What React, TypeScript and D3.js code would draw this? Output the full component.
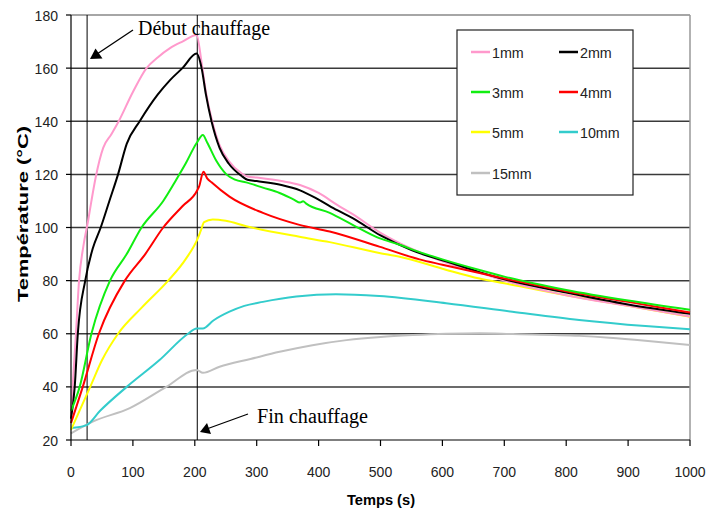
import React from "react";
import * as d3 from "d3";

type Pt = [number, number];

const xTicks = [0, 100, 200, 300, 400, 500, 600, 700, 800, 900, 1000];
const yTicks = [20, 40, 60, 80, 100, 120, 140, 160, 180];
const heatStart = 26;
const heatEnd = 204;

const s1mm: Pt[] = [[0,30],[4,45],[8,60],[13,80],[20,93],[28,103],[33,110],[40,119],[52,130],[65,135],[76,139.5],[100,151],[122,160],[140,164],[160,167.5],[180,170],[203,172.5],[211,162],[218,151],[227,141],[240,131],[255,125],[275,120.5],[285,119.2],[300,118.8],[340,117.5],[370,116],[400,113],[430,108.5],[455,105],[500,98],[550,92],[616,86],[660,83],[700,80],[800,74.5],[900,70.5],[1000,66.5]];
const s2mm: Pt[] = [[0,28],[6,40],[11,60],[23,80],[35,92],[48,100],[62,110],[76,120],[90,131.5],[111,140],[140,150],[160,155.5],[180,160],[203,165.5],[211,160],[218,150],[227,140],[240,130],[255,124],[275,119.5],[285,118],[300,117.5],[340,116],[370,114],[400,110.5],[430,106.5],[455,103.5],[500,97],[550,91.5],[616,86.5],[660,83.2],[700,80.5],[800,75.5],[900,71],[1000,67.5]];
const s3mm: Pt[] = [[0,31],[14,40],[33,60],[63,80],[90,90],[114,100],[149,110],[170,118],[185,124],[203,131.8],[213,134.8],[220,132],[235,125],[251,120],[265,118],[283,117],[310,115],[337,113],[360,110.5],[370,109.4],[375,109.9],[380,109],[418,105.5],[455,101],[498,96],[531,93.5],[560,91],[600,88],[660,84],[700,81.5],[800,76.5],[900,72.5],[1000,69]];
const s4mm: Pt[] = [[0,26.4],[19,40],[45,60],[87,80],[120,90],[149,100],[180,108],[204,114],[207,115.5],[214,121],[220,118.5],[227,117],[256,111.6],[310,105.5],[369,101],[418,98.5],[498,92.8],[563,88],[600,86],[700,80.8],[800,76],[900,72],[1000,68]];
const s5mm: Pt[] = [[0,23.8],[31,40],[50,50],[76,60],[115,70],[157,80],[185,88],[205,96],[210,99],[215,102],[229,103],[250,102.5],[283,100.5],[369,96.5],[418,94.5],[498,90.4],[531,89],[600,84.5],[660,80.8],[700,79],[800,74.5],[900,70.5],[1000,66.4]];
const s10mm: Pt[] = [[0,24.5],[25,25.6],[47,31],[90,40],[143,50.1],[189,60],[203,62],[213,62],[230,65],[256,68.3],[280,70.5],[310,72],[364,74],[428,74.9],[498,74.2],[606,71.5],[713,68.3],[821,65.2],[928,62.9],[1000,61.7]];
const s15mm: Pt[] = [[0,22.5],[35,26.9],[95,32],[154,40],[203,46.4],[213,45.3],[240,47.6],[290,50.5],[337,53.2],[390,55.7],[445,57.6],[500,58.8],[552,59.5],[606,60],[660,60.2],[713,59.9],[821,59.2],[870,58.5],[928,57.4],[1000,55.8]];

const seriesNames = ["1mm", "2mm", "3mm", "4mm", "5mm", "10mm", "15mm"];
const seriesData = [s1mm, s2mm, s3mm, s4mm, s5mm, s10mm, s15mm];
const seriesColors = ["#FF99CC", "#000000", "#11EE11", "#FF0000", "#FFFF00", "#33CCCC", "#C0C0C0"];
const drawOrder = [6, 5, 4, 0, 1, 3, 2];

const W = 708;
const H = 510;
const L = 71, R = 690, T = 15, B = 440;

export default function App() {
  const x = d3.scaleLinear().domain([0, 1000]).range([L, R]);
  const y = d3.scaleLinear().domain([20, 180]).range([B, T]);
  const line = d3.line<Pt>().x(d => x(d[0])).y(d => y(d[1])).curve(d3.curveMonotoneX);
  const sans = "'Liberation Sans', Arial, sans-serif";
  const serif = "'Liberation Serif', 'Times New Roman', serif";

  const legendX = 457, legendY = 30, legendW = 176, legendH = 165;
  const rowY = [52, 92, 132, 173];
  const colLineX = [471, 559];

  return (
    <svg width={W} height={H} style={{ position: "absolute", left: 0, top: 0 }}>
      <rect x={0} y={0} width={W} height={H} fill="#fff" />
      {yTicks.filter(v => v > 20).map(v => (
        <line key={"g" + v} x1={L} x2={R} y1={y(v)} y2={y(v)} stroke={v === 180 ? "#888" : "#3a3a3a"} strokeWidth={1.5} />
      ))}
      <line x1={R} x2={R} y1={T} y2={B} stroke="#999" strokeWidth={1.5} />
      <line x1={x(heatStart)} x2={x(heatStart)} y1={T} y2={B} stroke="#000" strokeWidth={1} />
      <line x1={x(heatEnd)} x2={x(heatEnd)} y1={T} y2={B} stroke="#000" strokeWidth={1} />
      {drawOrder.map(i => (
        <path key={seriesNames[i]} d={line(seriesData[i]) || ""} fill="none" stroke={seriesColors[i]} strokeWidth={2} strokeLinejoin="round" />
      ))}
      <line x1={L} x2={L} y1={T} y2={B} stroke="#000" strokeWidth={1.2} />
      <line x1={L} x2={R} y1={B} y2={B} stroke="#000" strokeWidth={1.2} />
      {yTicks.map(v => (
        <g key={"y" + v}>
          <line x1={L - 5} x2={L} y1={y(v)} y2={y(v)} stroke="#000" strokeWidth={1.2} />
          <text x={58} y={y(v) + 5.5} textAnchor="end" fontFamily={sans} fontSize={15} fill="#222" textLength={String(v).length * 7.8} lengthAdjust="spacingAndGlyphs">{v}</text>
        </g>
      ))}
      {xTicks.map(v => (
        <g key={"x" + v}>
          <line x1={x(v)} x2={x(v)} y1={B} y2={B + 6} stroke="#000" strokeWidth={1.2} />
          <text x={x(v)} y={477} textAnchor="middle" fontFamily={sans} fontSize={15} fill="#222" textLength={String(v).length * 7.8} lengthAdjust="spacingAndGlyphs">{v}</text>
        </g>
      ))}
      <text x={381} y={505} textAnchor="middle" fontFamily={sans} fontSize={15} fontWeight="bold" fill="#000" textLength={68} lengthAdjust="spacingAndGlyphs">Temps (s)</text>
      <text transform="translate(28,214) rotate(-90)" textAnchor="middle" fontFamily={sans} fontSize={15} fontWeight="bold" fill="#000" textLength={176} lengthAdjust="spacingAndGlyphs">Température (°C)</text>

      {/* annotations */}
      <text x={138} y={35} fontFamily={serif} fontSize={20} fill="#000" textLength={132} lengthAdjust="spacingAndGlyphs">Début chauffage</text>
      <line x1={133} y1={30} x2={97} y2={54} stroke="#000" strokeWidth={1.3} />
      <path d="M90,59 L95.5,48.5 L102.5,58.5 Z" fill="#000" />
      <text x={257} y={423} fontFamily={serif} fontSize={20} fill="#000" textLength={111} lengthAdjust="spacingAndGlyphs">Fin chauffage</text>
      <line x1={248} y1={414} x2={208} y2={428.5} stroke="#000" strokeWidth={1.3} />
      <path d="M200,432 L207,423 L211,434 Z" fill="#000" />

      {/* legend */}
      <rect x={legendX} y={legendY} width={legendW} height={legendH} fill="#fff" stroke="#222" strokeWidth={1.2} />
      {seriesNames.map((name, i) => {
        const col = i % 2;
        const row = Math.floor(i / 2);
        const lx = colLineX[col];
        const ly = rowY[row];
        return (
          <g key={"lg" + name}>
            <line x1={lx} x2={lx + 19} y1={ly} y2={ly} stroke={seriesColors[i]} strokeWidth={2.5} />
            <text x={lx + 21} y={ly + 5.5} fontFamily={sans} fontSize={15} fill="#222" textLength={(name.length - 2) * 7.8 + 24} lengthAdjust="spacingAndGlyphs">{name}</text>
          </g>
        );
      })}
    </svg>
  );
}
